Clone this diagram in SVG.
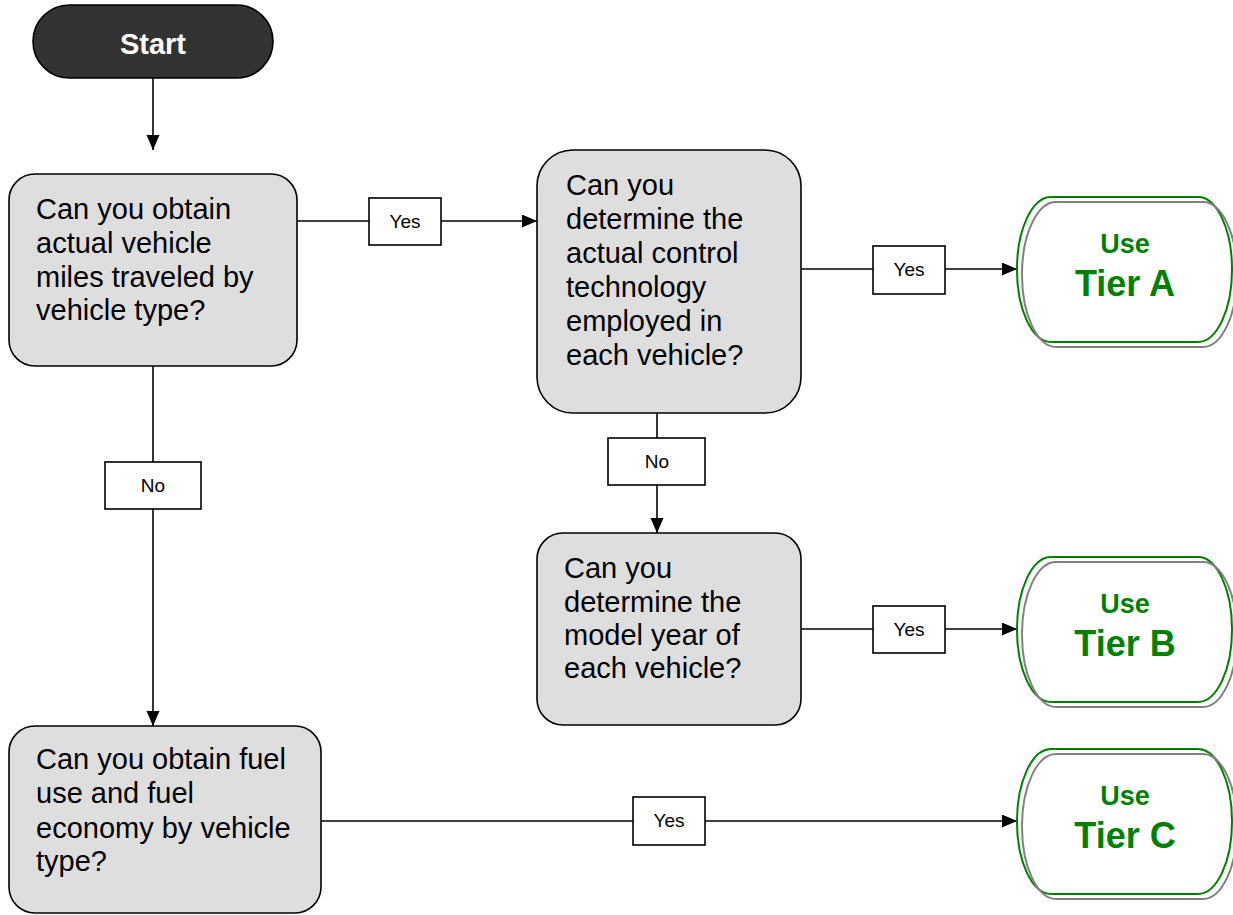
<svg xmlns="http://www.w3.org/2000/svg" width="1233" height="915" viewBox="0 0 1233 915">
<style>
.q{fill:#dedede;stroke:#000;stroke-width:1.6}
.qt{font-family:"Liberation Sans",Arial,sans-serif;font-size:29px;fill:#000}
.lb{fill:#fff;stroke:#000;stroke-width:1.6}
.lt{font-family:"Liberation Sans",Arial,sans-serif;font-size:19px;fill:#000;text-anchor:middle}
.c{stroke:#000;stroke-width:1.6;fill:none;marker-end:url(#ah)}
.tg{fill:#fff;stroke:#008000;stroke-width:2}
.ts{fill:none;stroke:#808080;stroke-width:2}
.tu{font-family:"Liberation Sans",Arial,sans-serif;font-weight:bold;fill:#008000;text-anchor:middle}
</style>
<defs>
<marker id="ah" markerWidth="16" markerHeight="14" refX="15" refY="6.5" orient="auto" markerUnits="userSpaceOnUse">
<path d="M0,0 L15,6.5 L0,13 Z" fill="#000"/>
</marker>
</defs>
<rect width="1233" height="915" fill="#fff"/>
<g id="connectors">
<path class="c" d="M153,78 V150"/>
<path class="c" d="M297,221 H537"/>
<path class="c" d="M801,269 H1017"/>
<path class="c" d="M153,366 V726"/>
<path class="c" d="M657,413 V533"/>
<path class="c" d="M801,629 H1017"/>
<path class="c" d="M321,821 H1017"/>
<g id="lbl-yes1"><rect class="lb" x="369" y="198" width="72" height="47"/><text class="lt" x="405" y="228">Yes</text></g>
<g id="lbl-yes2"><rect class="lb" x="873" y="246" width="72" height="48"/><text class="lt" x="909" y="276">Yes</text></g>
<g id="lbl-no1"><rect class="lb" x="105" y="462" width="96" height="47"/><text class="lt" x="153" y="492">No</text></g>
<g id="lbl-no2"><rect class="lb" x="608" y="438" width="97" height="47"/><text class="lt" x="657" y="468">No</text></g>
<g id="lbl-yes3"><rect class="lb" x="873" y="606" width="72" height="47"/><text class="lt" x="909" y="636">Yes</text></g>
<g id="lbl-yes4"><rect class="lb" x="633" y="797" width="72" height="48"/><text class="lt" x="669" y="827">Yes</text></g>
</g>
<g id="start">
<rect x="33" y="5" width="240" height="73" rx="36.5" ry="36.5" fill="#333" stroke="#000" stroke-width="1.6"/>
<text x="153" y="54" font-family="'Liberation Sans',Arial,sans-serif" font-weight="bold" font-size="29" fill="#fff" text-anchor="middle">Start</text>
</g>
<g id="q1">
<rect class="q" x="9" y="174" width="288" height="192" rx="26"/>
<text class="qt"><tspan x="36" y="219">Can you obtain</tspan><tspan x="36" y="253">actual vehicle</tspan><tspan x="36" y="287">miles traveled by</tspan><tspan x="36" y="320">vehicle type?</tspan></text>
</g>
<g id="q2">
<rect class="q" x="537" y="150" width="264" height="263" rx="36"/>
<text class="qt"><tspan x="566" y="195">Can you</tspan><tspan x="566" y="229">determine the</tspan><tspan x="566" y="263">actual control</tspan><tspan x="566" y="297">technology</tspan><tspan x="566" y="331">employed in</tspan><tspan x="566" y="365">each vehicle?</tspan></text>
</g>
<g id="q3">
<rect class="q" x="537" y="533" width="264" height="192" rx="26"/>
<text class="qt"><tspan x="564" y="578">Can you</tspan><tspan x="564" y="612">determine the</tspan><tspan x="564" y="645">model year of</tspan><tspan x="564" y="678">each vehicle?</tspan></text>
</g>
<g id="q4">
<rect class="q" x="9" y="726" width="312" height="187" rx="26"/>
<text class="qt"><tspan x="36" y="769">Can you obtain fuel</tspan><tspan x="36" y="803">use and fuel</tspan><tspan x="36" y="838">economy by vehicle</tspan><tspan x="36" y="871">type?</tspan></text>
</g>
<g id="tierA">
<rect class="tg" x="1017" y="197" width="215" height="145" rx="34" ry="72"/>
<rect class="ts" x="1022" y="202" width="215" height="145" rx="34" ry="72"/>
<text class="tu" x="1125" y="253" font-size="27">Use</text>
<text class="tu" x="1125" y="296" font-size="36">Tier A</text>
</g>
<g id="tierB">
<rect class="tg" x="1017" y="557" width="215" height="145" rx="34" ry="72"/>
<rect class="ts" x="1022" y="562" width="215" height="145" rx="34" ry="72"/>
<text class="tu" x="1125" y="613" font-size="27">Use</text>
<text class="tu" x="1125" y="656" font-size="36">Tier B</text>
</g>
<g id="tierC">
<rect class="tg" x="1017" y="749" width="215" height="145" rx="34" ry="72"/>
<rect class="ts" x="1022" y="754" width="215" height="145" rx="34" ry="72"/>
<text class="tu" x="1125" y="805" font-size="27">Use</text>
<text class="tu" x="1125" y="848" font-size="36">Tier C</text>
</g>
</svg>
